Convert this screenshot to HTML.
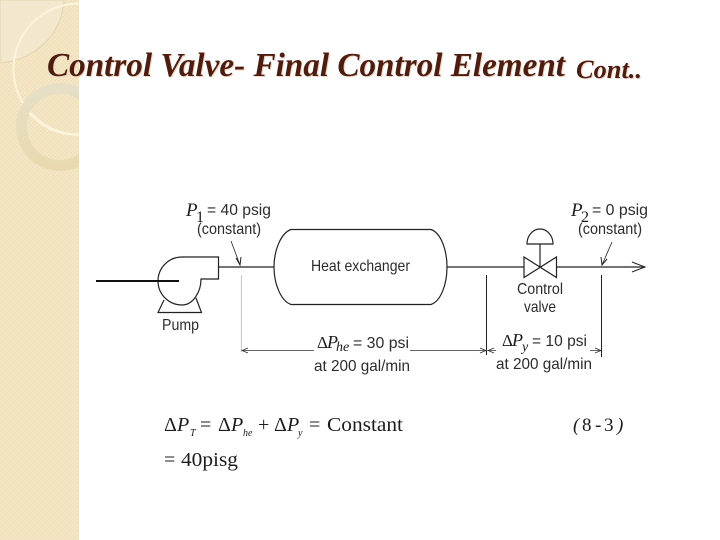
<!DOCTYPE html>
<html>
<head>
<meta charset="utf-8">
<style>
html,body{margin:0;padding:0;background:#fff;width:720px;height:540px;overflow:hidden}
svg{display:block}
.s{font-family:"Liberation Sans",sans-serif;font-size:16px;fill:#2c2c2c}
.m{font-family:"Liberation Serif",serif;fill:#1c1c1c}
.i{font-style:italic}
.t{font-family:"Liberation Serif",serif;font-style:italic;font-weight:bold;fill:#4f1d10}
</style>
</head>
<body>
<svg width="720" height="540" viewBox="0 0 720 540" xmlns="http://www.w3.org/2000/svg">
<defs>
<pattern id="p" width="4" height="4" patternUnits="userSpaceOnUse">
<rect width="4" height="4" fill="#f1e1bb"/>
<rect width="2" height="2" fill="#f4e7c8"/>
<rect x="2" y="2" width="2" height="2" fill="#f4e7c8"/>
</pattern>
<clipPath id="c"><rect width="79" height="540"/></clipPath>
<linearGradient id="r" x1="0" y1="0" x2="0" y2="1">
<stop offset="0" stop-color="#e6dfc8"/>
<stop offset="1" stop-color="#e8d9ae"/>
</linearGradient>
</defs>
<rect width="79" height="540" fill="url(#p)"/>
<g clip-path="url(#c)">
<path d="M0 0H64C62 34 36 60 0 63Z" fill="#f3e8cd" stroke="#e2d4ae" stroke-width="1"/>
<circle cx="79" cy="69" r="65.500" fill="none" stroke="#fbf4dc" stroke-width="2"/>
<path d="M60 83A44 44 0 1 0 60.010 171A44 44 0 1 0 60 83ZM60 94A33 33 0 1 1 59.990 160A33 33 0 1 1 60 94Z" fill="url(#r)" fill-rule="evenodd"/>
<path d="M29 113A66 66 0 0 0 79 135" fill="none" stroke="#fbf4dc" stroke-width="2"/>
</g>

<text class="t" x="47" y="76" font-size="34" textLength="518" lengthAdjust="spacingAndGlyphs" style="filter:drop-shadow(1px 1px 0 #eed6c4)">Control Valve- Final Control Element</text>
<text class="t" x="576" y="78" font-size="26" textLength="66" lengthAdjust="spacingAndGlyphs" style="filter:drop-shadow(1px 1px 0 #eed6c4)">Cont..</text>

<g fill="none" stroke="#222" stroke-width="1.200">
<path d="M218.500 267H274M447 267H524M556 267H645"/>
<path d="M274 267C274 250 281 233 291 229.500H431C441 233 447 250 447 267C447 284 441 301 431 304.500H291C281 301 274 284 274 267Z"/>
<path d="M201 279H218.500V257H182A24 24 0 1 0 182 305C193 305 201 292 201 279Z" fill="#fff"/>
<path d="M164 300L158 312.500H201.500L196 298"/>
<path d="M524 257V277.500L556.500 257V277.500Z"/>
<path d="M540 267V244"/>
<path d="M527 244A13 15 0 0 1 553 244Z"/>
<path d="M632 262L645 267L632 272" stroke-width="1"/>
<path d="M231 241L240 265" stroke-width="0.800"/>
<path d="M236 258L240 265L241 257" stroke-width="1"/>
<path d="M612 242L602 265" stroke-width="0.800"/>
<path d="M601 257L602 265L607 259" stroke-width="1"/>
</g>
<path d="M96 281H179" stroke="#111" stroke-width="2"/>

<path d="M241.500 275V352" stroke="#ccc" stroke-width="1.200" fill="none"/>
<g fill="none" stroke="#333" stroke-width="0.800">
<path d="M486.500 275V355M601.500 275V357" stroke="#222" stroke-width="1"/>
<path d="M242 350.500H314M410 350.500H486M488 350.500H496M590 350.500H601"/>
<path d="M248 348L242 350.500L248 353M480 348L486 350.500L480 353M494 348L488 350.500L494 353M595 348L601 350.500L595 353"/>
</g>

<text class="m i" x="186" y="216" font-size="19">P</text>
<text class="m" x="196" y="222" font-size="16">1</text>
<text class="s" x="207" y="215" textLength="64" lengthAdjust="spacingAndGlyphs">= 40 psig</text>
<text class="s" x="197" y="234" textLength="64" lengthAdjust="spacingAndGlyphs">(constant)</text>
<text class="m i" x="571" y="216" font-size="19">P</text>
<text class="m" x="581" y="222" font-size="16">2</text>
<text class="s" x="592" y="215" textLength="56" lengthAdjust="spacingAndGlyphs">= 0 psig</text>
<text class="s" x="578" y="234" textLength="64" lengthAdjust="spacingAndGlyphs">(constant)</text>
<text class="s" x="311" y="271" textLength="99" lengthAdjust="spacingAndGlyphs">Heat exchanger</text>
<text class="s" x="162" y="330" textLength="37" lengthAdjust="spacingAndGlyphs">Pump</text>
<text class="s" x="517" y="294" textLength="46" lengthAdjust="spacingAndGlyphs">Control</text>
<text class="s" x="524" y="312" textLength="32" lengthAdjust="spacingAndGlyphs">valve</text>

<text class="m" x="317" y="348" font-size="17">Δ</text>
<text class="m i" x="327" y="348" font-size="18">P</text>
<text class="m i" x="336" y="351" font-size="14">he</text>
<text class="s" x="353" y="348" textLength="56" lengthAdjust="spacingAndGlyphs">= 30 psi</text>
<text class="s" x="314" y="371" textLength="96" lengthAdjust="spacingAndGlyphs">at 200 gal/min</text>

<text class="m" x="502" y="346" font-size="17">Δ</text>
<text class="m i" x="512" y="346" font-size="18">P</text>
<text class="m i" x="522" y="351" font-size="14">y</text>
<text class="s" x="532" y="346" textLength="55" lengthAdjust="spacingAndGlyphs">= 10 psi</text>
<text class="s" x="496" y="369" textLength="96" lengthAdjust="spacingAndGlyphs">at 200 gal/min</text>

<text class="m" x="164" y="431" font-size="20">Δ</text>
<text class="m i" x="177" y="431" font-size="20">P</text>
<text class="m i" x="190" y="436" font-size="10">T</text>
<text class="m" x="200" y="431" font-size="20">=</text>
<text class="m" x="218" y="431" font-size="20">Δ</text>
<text class="m i" x="231" y="431" font-size="20">P</text>
<text class="m i" x="243" y="436" font-size="10">he</text>
<text class="m" x="258" y="431" font-size="20">+</text>
<text class="m" x="274" y="431" font-size="20">Δ</text>
<text class="m i" x="287" y="431" font-size="20">P</text>
<text class="m i" x="298" y="436" font-size="10">y</text>
<text class="m" x="309" y="431" font-size="20">=</text>
<text class="m" x="327" y="431" font-size="20" textLength="76" lengthAdjust="spacingAndGlyphs">Constant</text>
<text class="m" x="164" y="466" font-size="20">=</text>
<text class="m" x="181" y="466" font-size="20" textLength="57" lengthAdjust="spacingAndGlyphs">40pisg</text>
<text class="m i" x="573" y="431" font-size="19">(</text>
<text class="m" x="582" y="431" font-size="19">8</text>
<text class="m" x="595" y="431" font-size="19">-</text>
<text class="m" x="604" y="431" font-size="19">3</text>
<text class="m i" x="617" y="431" font-size="19">)</text>
</svg>
</body>
</html>
